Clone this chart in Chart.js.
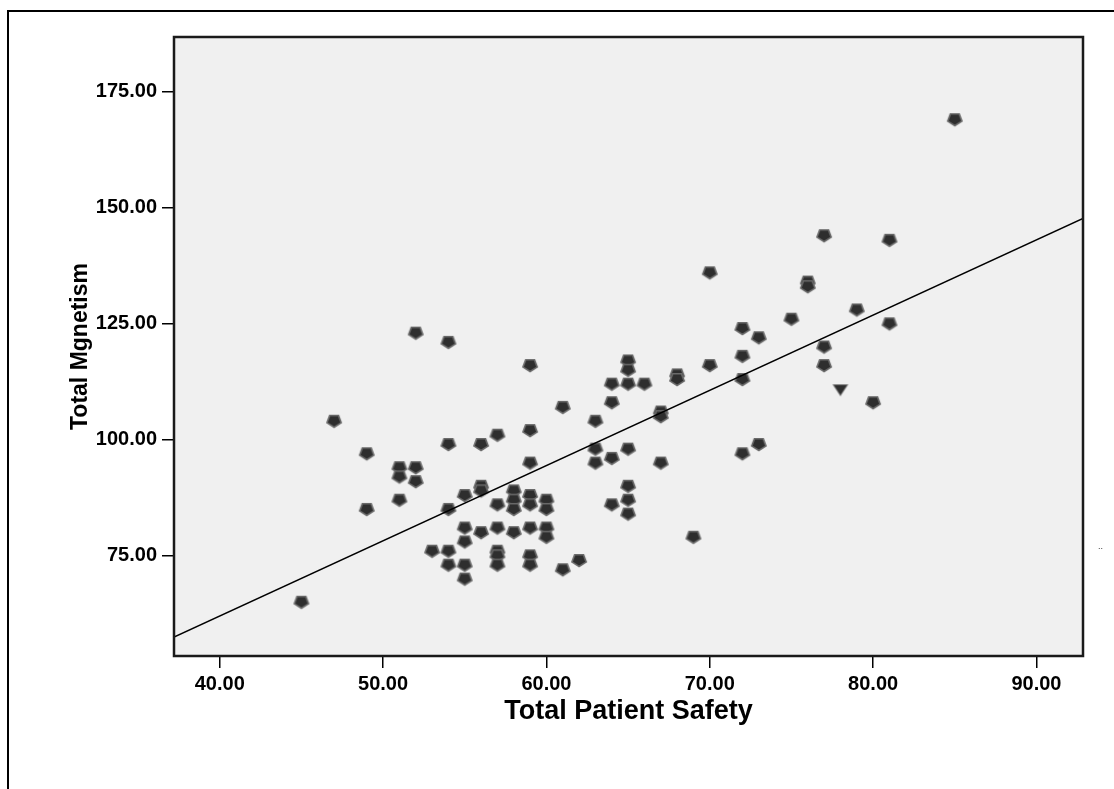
<!DOCTYPE html>
<html>
<head>
<meta charset="utf-8">
<script src="https://cdn.jsdelivr.net/npm/chart.js@4/dist/chart.umd.min.js"></script>
<style>
  body { margin: 0; background: #fff; }
  #wrap { position: relative; width: 1114px; height: 789px; }
  #frame { position: absolute; left: 7px; top: 10px; right: 0; bottom: 0;
           border-left: 2px solid #000; border-top: 2px solid #000; pointer-events: none; }
  #dots { position: absolute; left: 1098px; top: 541px; font: 9px "Liberation Sans", Arial, sans-serif; color: #333; }
</style>
</head>
<body>
<div id="wrap">
  <canvas id="chart" width="1114" height="789"></canvas>
  <div id="frame"></div>
  <div id="dots">..</div>
</div>
<script>
// Ejes
const xTicks = [40, 50, 60, 70, 80, 90];
const yTicks = [75, 100, 125, 150, 175];

// Puntos (Total Patient Safety, Total Mgnetism)
const safetyX = [45, 47, 49, 49, 51, 51, 51, 52, 52, 52, 53,
  54, 54, 54, 54, 54, 55, 55, 55, 55, 55, 56, 56, 56, 56,
  57, 57, 57, 57, 57, 57, 58, 58, 58, 58,
  59, 59, 59, 59, 59, 59, 59, 59, 60, 60, 60, 60,
  61, 61, 62, 63, 63, 63, 64, 64, 64, 64,
  65, 65, 65, 65, 65, 65, 65, 66, 67, 67, 67, 68, 68, 69,
  70, 70, 72, 72, 72, 72, 73, 73, 75, 76, 76, 77, 77, 77,
  79, 80, 81, 81, 85];
const magnetY = [65, 104, 97, 85, 94, 92, 87, 123, 94, 91, 76,
  121, 99, 85, 76, 73, 88, 81, 78, 73, 70, 99, 90, 89, 80,
  101, 86, 81, 76, 75, 73, 89, 87, 85, 80,
  116, 102, 95, 88, 86, 81, 75, 73, 87, 85, 81, 79,
  107, 72, 74, 104, 98, 95, 112, 108, 96, 86,
  117, 115, 112, 98, 90, 87, 84, 112, 106, 105, 95, 114, 113, 79,
  136, 116, 124, 118, 113, 97, 122, 99, 126, 134, 133, 144, 120, 116,
  128, 108, 143, 125, 169];

// Punto con otro marcador
const otherX = [78];
const otherY = [111];

// Recta de ajuste (extremos)
const fitX = [37.2, 92.85];
const fitY = [57.4, 147.6];

const FONT = '"Liberation Sans", Arial, sans-serif';

// Marcador pentágono (apunta hacia abajo)
function makeMarker(sides, r, startDeg) {
    const c = document.createElement('canvas');
    c.width = 22; c.height = 20;
    const g = c.getContext('2d');
    function poly(rad) {
        g.beginPath();
        for (let k = 0; k < sides; k++) {
            const a = (startDeg + k * 360 / sides) * Math.PI / 180;
            const px = 11 + Math.cos(a) * rad * 1.15;
            const py = 10 + Math.sin(a) * rad;
            if (k === 0) g.moveTo(px, py); else g.lineTo(px, py);
        }
        g.closePath();
        g.fill();
    }
    g.fillStyle = '#6a6a6a';
    poly(r);
    g.fillStyle = '#2e2e2e';
    poly(r - 1.8);
    return c;
}
const pentagon = makeMarker(5, 7.4, 90);
const triangle = makeMarker(3, 8, 90);

const plotArea = {
    id: 'plotArea',
    beforeDatasetsDraw(chart) {
        const a = chart.chartArea, ctx = chart.ctx;
        ctx.save();
        ctx.fillStyle = '#f0f0f0';
        ctx.fillRect(a.left, a.top, a.right - a.left, a.bottom - a.top);
        ctx.restore();
    },
    afterDraw(chart) {
        const a = chart.chartArea, ctx = chart.ctx;
        ctx.save();
        ctx.strokeStyle = '#1a1a1a';
        ctx.lineWidth = 2.5;
        ctx.strokeRect(a.left, a.top, a.right - a.left, a.bottom - a.top);
        ctx.restore();
    }
};

new Chart(document.getElementById('chart').getContext('2d'), {
    type: 'scatter',
    data: {
        datasets: [
            {
                type: 'line',
                data: fitX.map((x, i) => ({ x: x, y: fitY[i] })),
                borderColor: '#000',
                borderWidth: 1.5,
                pointRadius: 0,
                fill: false
            },
            {
                data: safetyX.map((x, i) => ({ x: x, y: magnetY[i] })),
                pointStyle: pentagon,
                pointRadius: 8
            },
            {
                data: otherX.map((x, i) => ({ x: x, y: otherY[i] })),
                pointStyle: triangle,
                pointRadius: 8
            }
        ]
    },
    plugins: [plotArea],
    options: {
        responsive: false,
        animation: false,
        layout: { padding: { top: 37, right: 31, left: 0, bottom: 0 } },
        plugins: { legend: { display: false }, tooltip: { enabled: false } },
        scales: {
            x: {
                type: 'linear',
                min: 37.2,
                max: 92.85,
                afterBuildTicks: s => { s.ticks = xTicks.map(v => ({ value: v })); },
                afterFit: s => { s.height = 133; },
                border: { display: false },
                grid: { drawOnChartArea: false, drawTicks: true, tickLength: 12, color: '#000', lineWidth: 1.5 },
                ticks: {
                    autoSkip: false, maxRotation: 0, padding: 4, color: '#000',
                    font: { family: FONT, size: 20, weight: 'bold' },
                    callback: v => Number(v).toFixed(2)
                },
                title: {
                    display: true, text: 'Total Patient Safety', color: '#000',
                    font: { family: FONT, size: 27, weight: 'bold' },
                    padding: { top: 0, bottom: 61 }
                }
            },
            y: {
                type: 'linear',
                min: 53.3,
                max: 186.7,
                afterBuildTicks: s => { s.ticks = yTicks.map(v => ({ value: v })); },
                afterFit: s => { s.width = 174; },
                border: { display: false },
                grid: { drawOnChartArea: false, drawTicks: true, tickLength: 12, color: '#000', lineWidth: 1.5 },
                ticks: {
                    autoSkip: false, padding: 5, color: '#000',
                    font: { family: FONT, size: 20, weight: 'bold' },
                    callback: v => Number(v).toFixed(2)
                },
                title: {
                    display: true, text: 'Total Mgnetism', color: '#000',
                    font: { family: FONT, size: 23, weight: 'bold' },
                    padding: { top: 67, bottom: 0 }
                }
            }
        }
    }
});
</script>
</body>
</html>
